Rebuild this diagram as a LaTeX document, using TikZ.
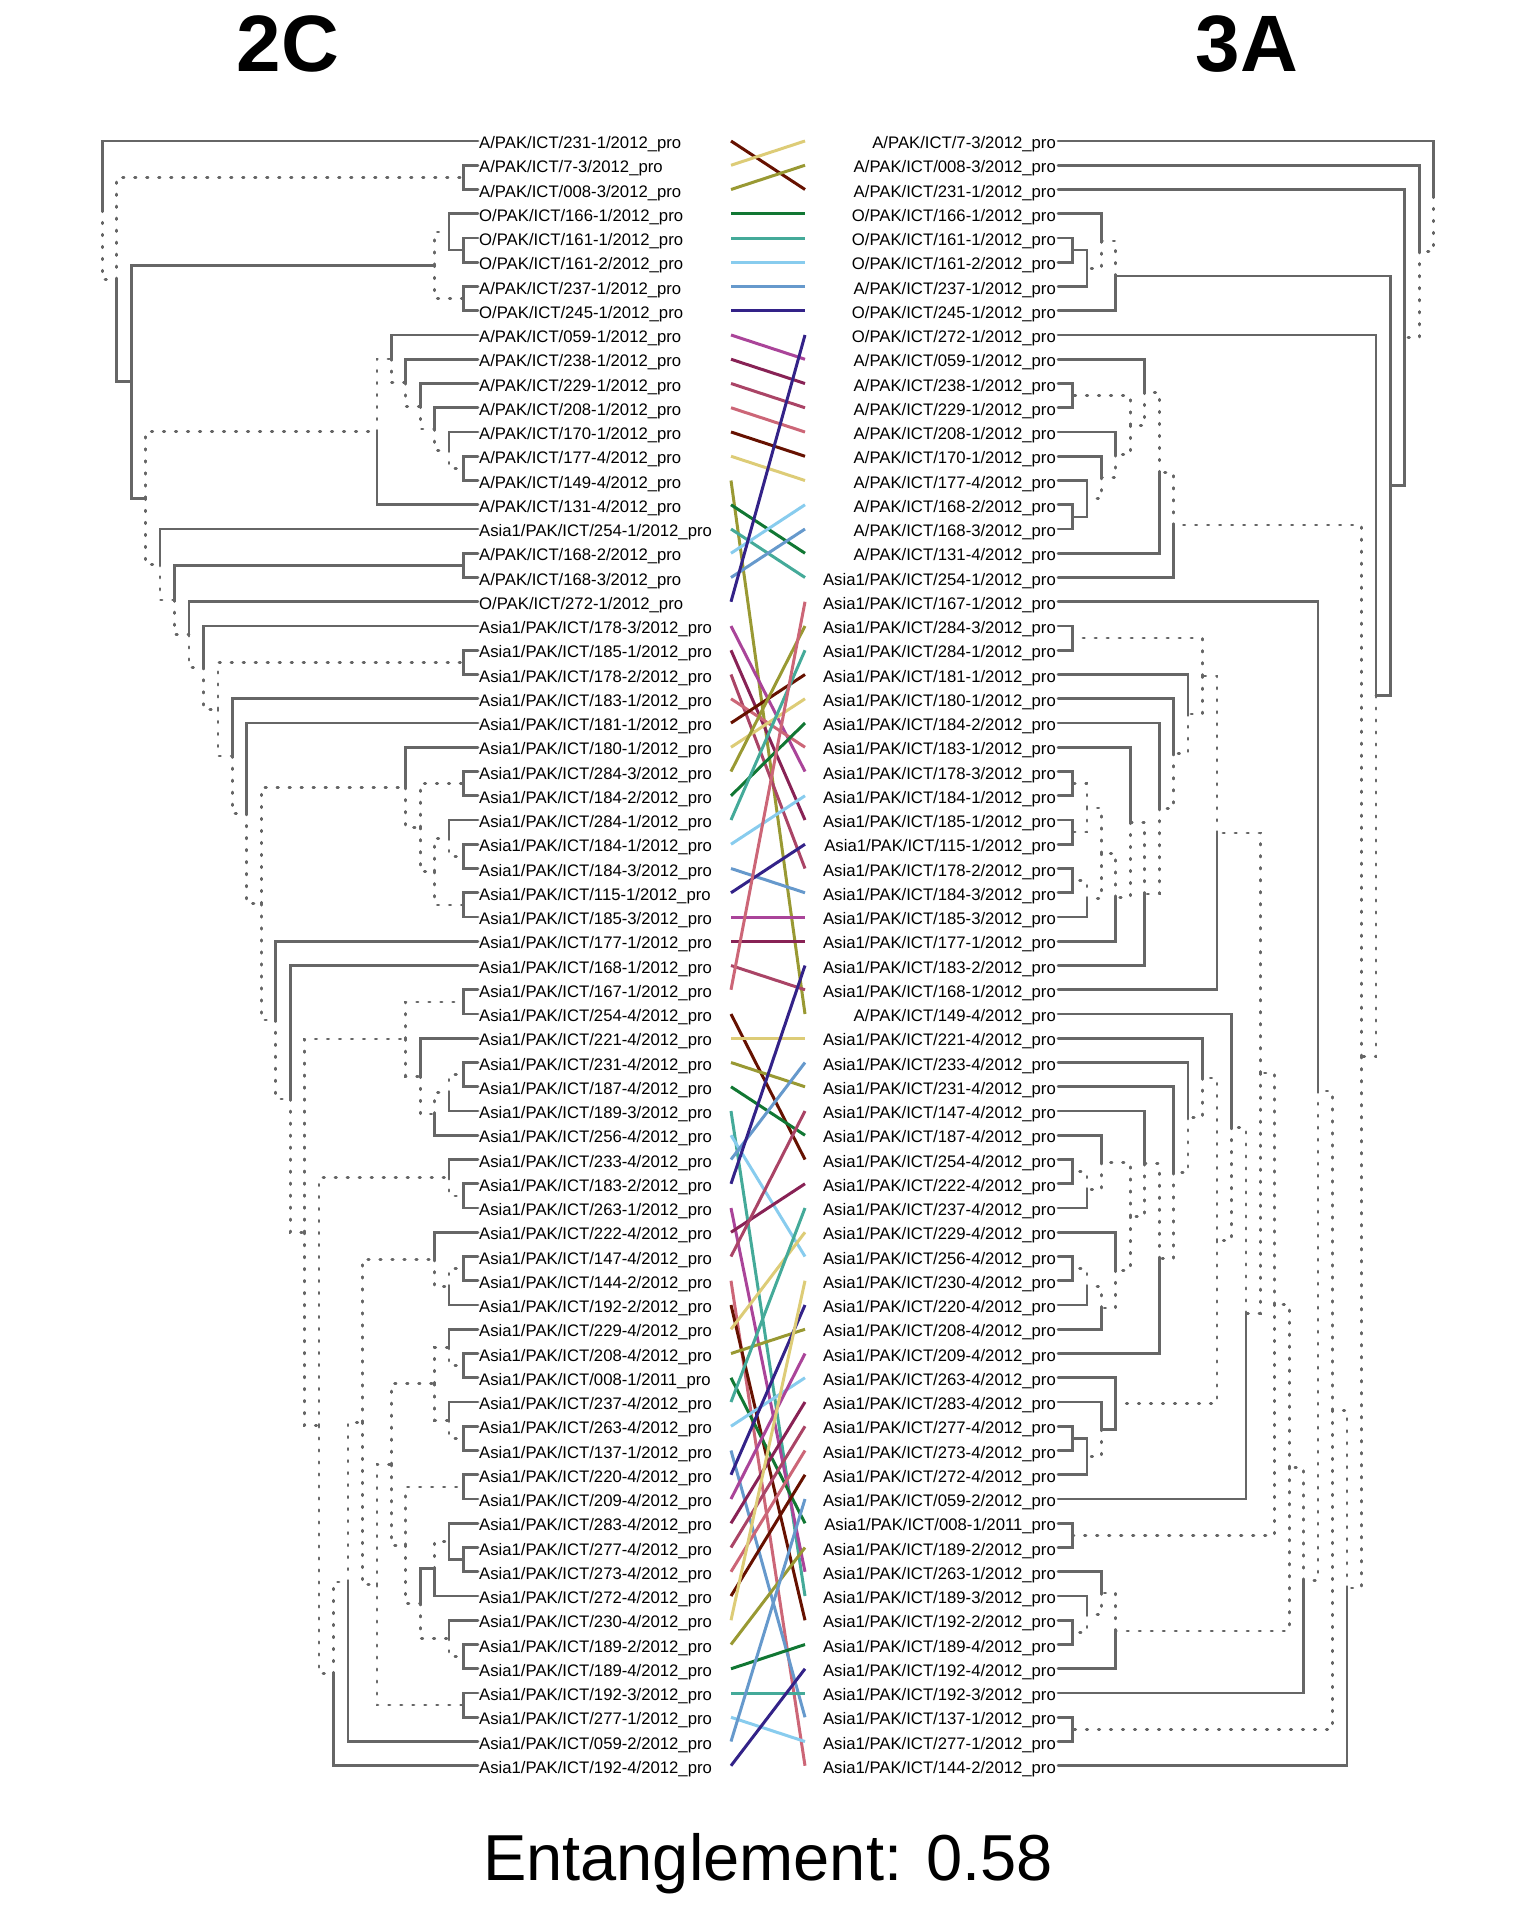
\documentclass[tikz,border=0pt]{standalone}
\usepackage{fontspec}
\setmainfont{Liberation Sans}
\usetikzlibrary{calc}
\definecolor{treegray}{HTML}{666666}
\definecolor{tangle0}{HTML}{661100}
\definecolor{tangle1}{HTML}{DDCC77}
\definecolor{tangle2}{HTML}{999933}
\definecolor{tangle3}{HTML}{117733}
\definecolor{tangle4}{HTML}{44AA99}
\definecolor{tangle5}{HTML}{88CCEE}
\definecolor{tangle6}{HTML}{6699CC}
\definecolor{tangle7}{HTML}{332288}
\definecolor{tangle8}{HTML}{AA4499}
\definecolor{tangle9}{HTML}{882255}
\definecolor{tangle10}{HTML}{AA4466}
\definecolor{tangle11}{HTML}{CC6677}

% Join two children at a rank: name, rank, child a, child b, style a, style b
\newcommand{\branch}[6]{%
    \coordinate (#1x) at ({\treebase+(\treestep)*#2}, 0);
    \coordinate (#1m) at ($(#3)!0.5!(#4)$);
    \coordinate (#1) at (#1m -| #1x);
    \draw[#5] (#1) |- (#3);
    \draw[#6] (#1) |- (#4);
}

\begin{document}
\begin{tikzpicture}[x=1pt, y=-1pt,
    common/.style={draw=treegray, line width=2.7pt, line cap=round},
    distinct/.style={common, dash pattern=on 1.5pt off 10.5pt},
    leaf/.style={font=\fontsize{16.7}{20}\selectfont, inner sep=0pt},
    tangle/.style={line width=3pt},
    title/.style={font=\fontsize{80}{96}\selectfont\bfseries, inner sep=0pt},
    score/.style={font=\fontsize{65}{78}\selectfont, inner sep=0pt}]
    \useasboundingbox (0, 0) rectangle (1536, 1920);

    % Titles
    \node[title, anchor=base] (ttl2C) at (288, 71) {2C};
    \node[title, anchor=base] (ttl3A) at (1247, 71) {3A};
    \node[score, anchor=base] (entang) at (768, 1880) {Entanglement: 0.58};

    % Left tree (2C)
    \begin{scope}
        \def\treebase{478}
        \def\treestep{-14.45}
        % Leaves and labels
        \foreach \pre/\code/\yr [count=\k] in {A/231-1/2012, A/7-3/2012, A/008-3/2012, O/166-1/2012,
            O/161-1/2012, O/161-2/2012, A/237-1/2012, O/245-1/2012, A/059-1/2012, A/238-1/2012,
            A/229-1/2012, A/208-1/2012, A/170-1/2012, A/177-4/2012, A/149-4/2012, A/131-4/2012,
            Asia1/254-1/2012, A/168-2/2012, A/168-3/2012, O/272-1/2012, Asia1/178-3/2012,
            Asia1/185-1/2012, Asia1/178-2/2012, Asia1/183-1/2012, Asia1/181-1/2012, Asia1/180-1/2012,
            Asia1/284-3/2012, Asia1/184-2/2012, Asia1/284-1/2012, Asia1/184-1/2012, Asia1/184-3/2012,
            Asia1/115-1/2012, Asia1/185-3/2012, Asia1/177-1/2012, Asia1/168-1/2012, Asia1/167-1/2012,
            Asia1/254-4/2012, Asia1/221-4/2012, Asia1/231-4/2012, Asia1/187-4/2012, Asia1/189-3/2012,
            Asia1/256-4/2012, Asia1/233-4/2012, Asia1/183-2/2012, Asia1/263-1/2012, Asia1/222-4/2012,
            Asia1/147-4/2012, Asia1/144-2/2012, Asia1/192-2/2012, Asia1/229-4/2012, Asia1/208-4/2012,
            Asia1/008-1/2011, Asia1/237-4/2012, Asia1/263-4/2012, Asia1/137-1/2012, Asia1/220-4/2012,
            Asia1/209-4/2012, Asia1/283-4/2012, Asia1/277-4/2012, Asia1/273-4/2012, Asia1/272-4/2012,
            Asia1/230-4/2012, Asia1/189-2/2012, Asia1/189-4/2012, Asia1/192-3/2012, Asia1/277-1/2012,
            Asia1/059-2/2012, Asia1/192-4/2012}{
            \coordinate (a\k) at (478, {141+(\k-1)*24.25});
            \node[leaf, anchor=base west] (ta\k) at (479, {148.5+(\k-1)*24.25}) {\pre/PAK/ICT/\code/\yr\_pro};
        }
        % Pairs of leaves
        \foreach \i in {2,5,7,14,18,22,27,30,32,36,39,44,47,51,54,56,59,63,65}{
            \pgfmathtruncatemacro{\j}{\i+1}
            \branch{lk\i}{1}{a\i}{a\j}{common}{common}
        }
        % Inner branches
        \branch{lF}{2}{a4}{lk5}{common}{common}
        \branch{lD}{3}{lF}{lk7}{distinct}{distinct}
        \branch{lM}{2}{a13}{lk14}{common}{distinct}
        \branch{lK}{3}{a12}{lM}{common}{distinct}
        \branch{lJ}{4}{a11}{lK}{common}{distinct}
        \branch{lI}{5}{a10}{lJ}{common}{distinct}
        \branch{lH}{6}{a9}{lI}{common}{distinct}
        \branch{lG}{7}{lH}{a16}{distinct}{common}
        \branch{lZa}{2}{a29}{lk30}{common}{distinct}
        \branch{lZ}{3}{lZa}{lk32}{distinct}{distinct}
        \branch{lY}{4}{lk27}{lZ}{distinct}{distinct}
        \branch{lW}{5}{a26}{lY}{common}{distinct}
        \branch{lAD}{2}{lk39}{a41}{distinct}{common}
        \branch{lAC}{3}{lAD}{a42}{distinct}{common}
        \branch{lAB}{4}{a38}{lAC}{common}{distinct}
        \branch{lAA}{5}{lk36}{lAB}{distinct}{distinct}
        \branch{lBB}{2}{a43}{lk44}{common}{distinct}
        \branch{lCB}{2}{lk47}{a49}{distinct}{common}
        \branch{lCA}{3}{a46}{lCB}{common}{distinct}
        \branch{lEA}{2}{a50}{lk51}{common}{distinct}
        \branch{lEC}{2}{a53}{lk54}{common}{distinct}
        \branch{lEB}{3}{lEA}{lEC}{distinct}{distinct}
        \branch{lFF}{2}{a58}{lk59}{common}{common}
        \branch{lFD}{3}{lFF}{a61}{distinct}{common}
        \branch{lFE}{2}{a62}{lk63}{common}{distinct}
        \branch{lFC}{4}{lFD}{lFE}{common}{distinct}
        \branch{lFB}{5}{lk56}{lFC}{distinct}{distinct}
        \branch{lFA}{6}{lEB}{lFB}{distinct}{distinct}
        \branch{lGA}{7}{lFA}{lk65}{distinct}{distinct}
        \branch{lDA}{8}{lCA}{lGA}{distinct}{distinct}
        \branch{lHA}{9}{lDA}{a67}{distinct}{common}
        \branch{lBC}{10}{lHA}{a68}{distinct}{common}
        \branch{lBA}{11}{lBB}{lBC}{distinct}{distinct}
        \branch{lXb}{12}{lAA}{lBA}{distinct}{distinct}
        \branch{lXa}{13}{a35}{lXb}{common}{distinct}
        \branch{lX}{14}{a34}{lXa}{common}{distinct}
        \branch{lV}{15}{lW}{lX}{distinct}{distinct}
        \branch{lU}{16}{a25}{lV}{common}{distinct}
        \branch{lT}{17}{a24}{lU}{common}{distinct}
        \branch{lS}{18}{lk22}{lT}{distinct}{distinct}
        \branch{lQ}{19}{a21}{lS}{common}{distinct}
        \branch{lP}{20}{a20}{lQ}{common}{distinct}
        \branch{lO}{21}{lk18}{lP}{common}{distinct}
        \branch{lN}{22}{a17}{lO}{common}{distinct}
        \branch{lE}{23}{lG}{lN}{distinct}{distinct}
        \branch{lC}{24}{lD}{lE}{common}{common}
        \branch{lA}{25}{lk2}{lC}{distinct}{common}
        \branch{lR}{26}{a1}{lA}{common}{distinct}
    \end{scope}

    % Right tree (3A)
    \begin{scope}
        \def\treebase{1058}
        \def\treestep{14.45}
        % Leaves and labels
        \foreach \pre/\code/\yr [count=\k] in {A/7-3/2012, A/008-3/2012, A/231-1/2012, O/166-1/2012,
            O/161-1/2012, O/161-2/2012, A/237-1/2012, O/245-1/2012, O/272-1/2012, A/059-1/2012,
            A/238-1/2012, A/229-1/2012, A/208-1/2012, A/170-1/2012, A/177-4/2012, A/168-2/2012,
            A/168-3/2012, A/131-4/2012, Asia1/254-1/2012, Asia1/167-1/2012, Asia1/284-3/2012,
            Asia1/284-1/2012, Asia1/181-1/2012, Asia1/180-1/2012, Asia1/184-2/2012, Asia1/183-1/2012,
            Asia1/178-3/2012, Asia1/184-1/2012, Asia1/185-1/2012, Asia1/115-1/2012, Asia1/178-2/2012,
            Asia1/184-3/2012, Asia1/185-3/2012, Asia1/177-1/2012, Asia1/183-2/2012, Asia1/168-1/2012,
            A/149-4/2012, Asia1/221-4/2012, Asia1/233-4/2012, Asia1/231-4/2012, Asia1/147-4/2012,
            Asia1/187-4/2012, Asia1/254-4/2012, Asia1/222-4/2012, Asia1/237-4/2012, Asia1/229-4/2012,
            Asia1/256-4/2012, Asia1/230-4/2012, Asia1/220-4/2012, Asia1/208-4/2012, Asia1/209-4/2012,
            Asia1/263-4/2012, Asia1/283-4/2012, Asia1/277-4/2012, Asia1/273-4/2012, Asia1/272-4/2012,
            Asia1/059-2/2012, Asia1/008-1/2011, Asia1/189-2/2012, Asia1/263-1/2012, Asia1/189-3/2012,
            Asia1/192-2/2012, Asia1/189-4/2012, Asia1/192-4/2012, Asia1/192-3/2012, Asia1/137-1/2012,
            Asia1/277-1/2012, Asia1/144-2/2012}{
            \coordinate (b\k) at (1058, {141+(\k-1)*24.25});
            \node[leaf, anchor=base east] (tb\k) at (1056, {148.5+(\k-1)*24.25}) {\pre/PAK/ICT/\code/\yr\_pro};
        }
        % Pairs of leaves
        \foreach \i in {5,11,16,21,27,29,31,43,47,54,58,62,66}{
            \pgfmathtruncatemacro{\j}{\i+1}
            \branch{rk\i}{1}{b\i}{b\j}{common}{common}
        }
        % Inner branches
        \branch{rG}{2}{rk5}{b7}{common}{common}
        \branch{rF}{3}{b4}{rG}{common}{distinct}
        \branch{rD}{4}{rF}{b8}{distinct}{common}
        \branch{rP}{2}{b15}{rk16}{common}{common}
        \branch{rO}{3}{b14}{rP}{common}{distinct}
        \branch{rN}{4}{b13}{rO}{common}{distinct}
        \branch{rM}{5}{rk11}{rN}{distinct}{distinct}
        \branch{rL}{6}{b10}{rM}{common}{distinct}
        \branch{rK}{7}{rL}{b18}{distinct}{common}
        \branch{rJ}{8}{rK}{b19}{distinct}{common}
        \branch{rSC}{2}{rk27}{rk29}{distinct}{distinct}
        \branch{rSE}{2}{rk31}{b33}{distinct}{common}
        \branch{rSD}{3}{rSC}{rSE}{distinct}{distinct}
        \branch{rSF}{4}{rSD}{b34}{distinct}{common}
        \branch{rZ}{5}{b26}{rSF}{common}{distinct}
        \branch{rY}{6}{rZ}{b35}{distinct}{common}
        \branch{rX}{7}{b25}{rY}{common}{distinct}
        \branch{rW}{8}{b24}{rX}{common}{distinct}
        \branch{rV}{9}{b23}{rW}{common}{distinct}
        \branch{rU}{10}{rk21}{rV}{distinct}{distinct}
        \branch{rSG}{11}{rU}{b36}{distinct}{common}
        \branch{rSV}{2}{rk43}{b45}{distinct}{common}
        \branch{rST}{3}{b42}{rSV}{common}{distinct}
        \branch{rSW}{2}{rk47}{b49}{distinct}{common}
        \branch{rSX}{3}{rSW}{b50}{distinct}{common}
        \branch{rSU}{4}{b46}{rSX}{common}{distinct}
        \branch{rSS}{5}{rST}{rSU}{distinct}{distinct}
        \branch{rSR}{6}{b41}{rSS}{common}{distinct}
        \branch{rSQ}{7}{rSR}{b51}{distinct}{common}
        \branch{rSP}{8}{b40}{rSQ}{common}{distinct}
        \branch{rSO}{9}{b39}{rSP}{common}{distinct}
        \branch{rSM}{10}{b38}{rSO}{common}{distinct}
        \branch{rSZ}{2}{rk54}{b56}{common}{common}
        \branch{rSY}{3}{b53}{rSZ}{common}{distinct}
        \branch{rSN}{4}{b52}{rSY}{common}{common}
        \branch{rSK}{11}{rSM}{rSN}{distinct}{distinct}
        \branch{rSJ}{12}{b37}{rSK}{common}{distinct}
        \branch{rSL}{13}{rSJ}{b57}{distinct}{common}
        \branch{rSH}{14}{rSG}{rSL}{distinct}{distinct}
        \branch{rSI}{15}{rSH}{rk58}{distinct}{distinct}
        \branch{rTD}{2}{b61}{rk62}{common}{distinct}
        \branch{rTC}{3}{b60}{rTD}{common}{distinct}
        \branch{rTB}{4}{rTC}{b64}{distinct}{common}
        \branch{rTA}{16}{rSI}{rTB}{distinct}{distinct}
        \branch{rS}{17}{rTA}{b65}{distinct}{common}
        \branch{rQ}{18}{b20}{rS}{common}{distinct}
        \branch{rT}{19}{rQ}{rk66}{distinct}{distinct}
        \branch{rI}{20}{rT}{b68}{distinct}{common}
        \branch{rH}{21}{rJ}{rI}{distinct}{distinct}
        \branch{rE}{22}{b9}{rH}{common}{distinct}
        \branch{rC}{23}{rD}{rE}{common}{common}
        \branch{rB}{24}{b3}{rC}{common}{common}
        \branch{rA}{25}{b2}{rB}{common}{distinct}
        \branch{rR}{26}{b1}{rA}{common}{distinct}
    \end{scope}

    % Tangle lines between the two trees
    \foreach \k in {1,...,68}{
        \coordinate (ca\k) at (731, {141+(\k-1)*24.25});
        \coordinate (cb\k) at (805, {141+(\k-1)*24.25});
    }
    \foreach \r [count=\k] in {3,1,2,4,5,6,7,8,10,11,12,13,14,15,37,18,19,16,17,9,
        27,29,31,26,23,24,21,25,22,28,32,30,33,34,36,20,43,38,40,42,
        61,47,39,35,60,44,41,68,62,46,50,58,45,52,66,49,51,53,54,55,
        56,48,59,63,65,67,57,64}{
        \pgfmathtruncatemacro{\c}{mod(\k-1,12)}
        \draw[tangle, draw=tangle\c] (ca\k) -- (cb\r);
    }
\end{tikzpicture}
\end{document}
